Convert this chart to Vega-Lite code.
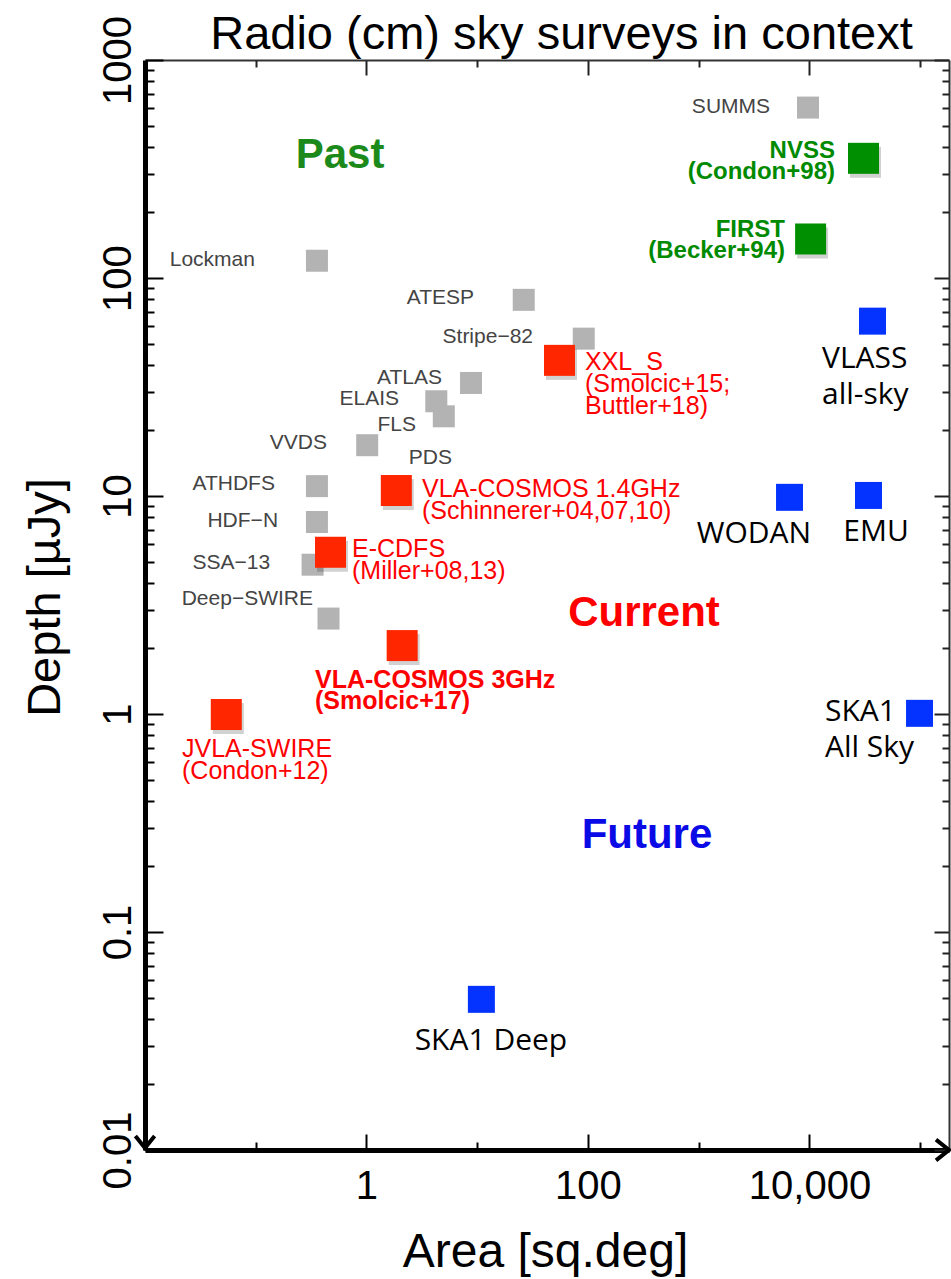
{
  "$schema": "https://vega.github.io/schema/vega-lite/v6.json",
  "width": 804,
  "height": 1090,
  "autosize": {"type": "none"},
  "padding": {"left": 145, "top": 60, "right": 2, "bottom": 129},
  "background": "white",
  "datasets": {
    "surveys": [
      {"name": "SUMMS", "group": "gray", "area": 9705, "depth": 605},
      {"name": "Lockman", "group": "gray", "area": 0.357, "depth": 120},
      {"name": "ATESP", "group": "gray", "area": 26.3, "depth": 79.4},
      {"name": "Stripe-82", "group": "gray", "area": 91.6, "depth": 52.7},
      {"name": "ATLAS", "group": "gray", "area": 8.79, "depth": 33.0},
      {"name": "ELAIS", "group": "gray", "area": 4.27, "depth": 27.2},
      {"name": "FLS", "group": "gray", "area": 4.99, "depth": 23.2},
      {"name": "VVDS", "group": "gray", "area": 1.015, "depth": 17.1},
      {"name": "PDS", "group": "gray", "area": 1.86, "depth": 10.6},
      {"name": "ATHDFS", "group": "gray", "area": 0.357, "depth": 11.1},
      {"name": "HDF-N", "group": "gray", "area": 0.357, "depth": 7.6},
      {"name": "SSA-13", "group": "gray", "area": 0.326, "depth": 4.84},
      {"name": "Deep-SWIRE", "group": "gray", "area": 0.454, "depth": 2.74},
      {"name": "NVSS", "group": "green", "area": 30760, "depth": 354},
      {"name": "FIRST", "group": "green", "area": 10240, "depth": 151},
      {"name": "XXL-S", "group": "red", "area": 55.3, "depth": 41.9},
      {"name": "VLA-COSMOS 1.4GHz", "group": "red", "area": 1.86, "depth": 10.6},
      {"name": "E-CDFS", "group": "red", "area": 0.473, "depth": 5.52},
      {"name": "VLA-COSMOS 3GHz", "group": "red", "area": 2.10, "depth": 2.06},
      {"name": "JVLA-SWIRE", "group": "red", "area": 0.0542, "depth": 0.995},
      {"name": "VLASS", "group": "blue", "area": 37070, "depth": 63.4},
      {"name": "WODAN", "group": "blue", "area": 6607, "depth": 9.86},
      {"name": "EMU", "group": "blue", "area": 34130, "depth": 10.06},
      {"name": "SKA1 All Sky", "group": "blue", "area": 98600, "depth": 1.007},
      {"name": "SKA1 Deep", "group": "blue", "area": 10.9, "depth": 0.0491}
    ],
    "labels": [
      {"text": "SUMMS", "style": "gray", "area": 4406, "depth": 608},
      {"text": "Lockman", "style": "gray", "area": 0.0984, "depth": 121},
      {"text": "ATESP", "style": "gray", "area": 9.35, "depth": 80.9},
      {"text": "Stripe−82", "style": "gray", "area": 31.9, "depth": 53.6},
      {"text": "ATLAS", "style": "gray", "area": 4.81, "depth": 34.8},
      {"text": "ELAIS", "style": "gray", "area": 1.97, "depth": 27.9},
      {"text": "FLS", "style": "gray", "area": 2.80, "depth": 21.2},
      {"text": "VVDS", "style": "gray", "area": 0.440, "depth": 17.5},
      {"text": "PDS", "style": "gray", "area": 5.92, "depth": 14.9},
      {"text": "ATHDFS", "style": "gray", "area": 0.149, "depth": 11.35},
      {"text": "HDF−N", "style": "gray", "area": 0.159, "depth": 7.67},
      {"text": "SSA−13", "style": "gray", "area": 0.135, "depth": 4.93},
      {"text": "Deep−SWIRE", "style": "gray", "area": 0.329, "depth": 3.37},
      {"text": ["XXL_S", "(Smolcic+15;", "Buttler+18)"], "style": "red", "area": 94.0, "depth": 37.8},
      {"text": ["VLA-COSMOS 1.4GHz", "(Schinnerer+04,07,10)"], "style": "red", "area": 3.17, "depth": 9.89},
      {"text": ["E-CDFS", "(Miller+08,13)"], "style": "red", "area": 0.740, "depth": 5.25},
      {"text": ["JVLA-SWIRE", "(Condon+12)"], "style": "red", "area": 0.0216, "depth": 0.635},
      {"text": ["VLA-COSMOS 3GHz", "(Smolcic+17)"], "style": "redbold", "area": 0.343, "depth": 1.315},
      {"text": ["NVSS", "(Condon+98)"], "style": "green", "area": 17000, "depth": 355},
      {"text": ["FIRST", "(Becker+94)"], "style": "green", "area": 6014, "depth": 154},
      {"text": ["VLASS", "all-sky"], "style": "blackleft", "area": 12980, "depth": 38.6},
      {"text": ["SKA1", "All Sky"], "style": "blackleft", "area": 13800, "depth": 0.929},
      {"text": "WODAN", "style": "blackcenter", "area": 3156, "depth": 6.08},
      {"text": "EMU", "style": "blackcenter", "area": 39900, "depth": 6.22},
      {"text": "SKA1 Deep", "style": "blackcenter", "area": 13.3, "depth": 0.0288},
      {"text": "Past", "style": "Past", "area": 0.577, "depth": 320},
      {"text": "Current", "style": "Current", "area": 320.6, "depth": 2.535},
      {"text": "Future", "style": "Future", "area": 341, "depth": 0.2427}
    ]
  },
  "resolve": {"axis": {"x": "independent", "y": "independent"}},
  "layer": [
    {
      "data": {"name": "surveys"},
      "transform": [{"filter": "datum.group === 'gray'"}],
      "mark": {"type": "point", "shape": "square", "filled": true, "size": 484, "color": "#b3b3b3", "opacity": 1},
      "encoding": {
        "x": {"field": "area", "type": "quantitative",
          "scale": {"type": "log", "domain": [0.01, 181970], "nice": false},
          "axis": {"orient": "bottom", "values": [1, 100, 10000], "format": ",~f", "ticks": false, "grid": false,
            "domainColor": "black", "domainWidth": 5, "labelFontSize": 40, "labelFont": "Liberation Sans", "labelColor": "black",
            "labelPadding": 16, "labelBaseline": "top", "labelFlush": false, "labelOverlap": false,
            "title": "Area [sq.deg]", "titleFontSize": 48, "titleFont": "Liberation Sans", "titleFontWeight": "normal", "titleColor": "black",
            "titleX": 400, "titleY": 116, "titleBaseline": "alphabetic", "titleAlign": "center"}},
        "y": {"field": "depth", "type": "quantitative",
          "scale": {"type": "log", "domain": [0.01, 1000], "nice": false},
          "axis": {"orient": "left", "values": [0.01, 0.1, 1, 10, 100, 1000], "format": "~f", "ticks": false, "grid": false,
            "domainColor": "black", "domainWidth": 5, "labelAngle": -90, "labelAlign": "center", "labelBaseline": "middle",
            "labelFontSize": 40, "labelFont": "Liberation Sans", "labelColor": "black", "labelPadding": 27, "labelFlush": false, "labelOverlap": false,
            "title": "Depth [µJy]", "titleFontSize": 47, "titleFont": "Liberation Sans", "titleFontWeight": "normal", "titleColor": "black",
            "titleAngle": -90, "titleX": -100, "titleY": 537, "titleAlign": "center", "titleBaseline": "middle"}}
      }
    },
    {
      "data": {"name": "surveys"},
      "transform": [{"filter": "datum.group === 'red' || datum.group === 'green'"}],
      "mark": {"type": "point", "shape": "square", "filled": true, "size": 961, "color": "#000000", "opacity": 0.18, "xOffset": 2, "yOffset": 4},
      "encoding": {
        "x": {"field": "area", "type": "quantitative",
          "scale": {"type": "log", "domain": [0.01, 181970], "nice": false},
          "axis": {"orient": "bottom", "values": [1, 100, 10000], "labels": false, "domain": false, "grid": false, "title": null,
            "ticks": true, "tickSize": -16, "tickWidth": 2, "tickColor": "black"}},
        "y": {"field": "depth", "type": "quantitative",
          "scale": {"type": "log", "domain": [0.01, 1000], "nice": false},
          "axis": {"orient": "left", "values": [0.01, 0.1, 1, 10, 100, 1000], "labels": false, "domain": false, "grid": false, "title": null,
            "ticks": true, "tickSize": -18, "tickWidth": 2, "tickColor": "black"}}
      }
    },
    {
      "data": {"name": "surveys"},
      "transform": [{"filter": "datum.group === 'red'"}],
      "mark": {"type": "point", "shape": "square", "filled": true, "size": 961, "color": "#ff2600", "opacity": 1},
      "encoding": {
        "x": {"field": "area", "type": "quantitative",
          "scale": {"type": "log", "domain": [0.01, 181970], "nice": false},
          "axis": {"orient": "bottom", "values": [0.1, 10, 1000, 100000], "labels": false, "domain": false, "grid": false, "title": null,
            "ticks": true, "tickSize": -8, "tickWidth": 2, "tickColor": "black"}},
        "y": {"field": "depth", "type": "quantitative",
          "scale": {"type": "log", "domain": [0.01, 1000], "nice": false},
          "axis": {"orient": "left", "values": [0.02, 0.03, 0.04, 0.05, 0.06, 0.07, 0.08, 0.09, 0.2, 0.3, 0.4, 0.5, 0.6, 0.7, 0.8, 0.9, 2, 3, 4, 5, 6, 7, 8, 9, 20, 30, 40, 50, 60, 70, 80, 90, 200, 300, 400, 500, 600, 700, 800, 900],
            "labels": false, "domain": false, "grid": false, "title": null,
            "ticks": true, "tickSize": -9, "tickWidth": 2, "tickColor": "black"}}
      }
    },
    {
      "data": {"name": "surveys"},
      "transform": [{"filter": "datum.group === 'green'"}],
      "mark": {"type": "point", "shape": "square", "filled": true, "size": 961, "color": "#008f00", "opacity": 1},
      "encoding": {
        "x": {"field": "area", "type": "quantitative",
          "scale": {"type": "log", "domain": [0.01, 181970], "nice": false},
          "axis": {"orient": "top", "values": [1, 100, 10000], "labels": false, "domain": true, "domainColor": "#333333", "domainWidth": 2, "grid": false,
            "ticks": true, "tickSize": -15, "tickWidth": 2, "tickColor": "#222222",
            "title": "Radio (cm) sky surveys in context", "titleFontSize": 47, "titleFont": "Liberation Sans", "titleFontWeight": "normal", "titleColor": "black",
            "titleX": 416, "titleY": -12, "titleAlign": "center", "titleBaseline": "alphabetic"}},
        "y": {"field": "depth", "type": "quantitative",
          "scale": {"type": "log", "domain": [0.01, 1000], "nice": false},
          "axis": {"orient": "right", "values": [0.01, 0.1, 1, 10, 100, 1000], "labels": false, "domain": true, "domainColor": "#333333", "domainWidth": 2, "grid": false, "title": null,
            "ticks": true, "tickSize": -15, "tickWidth": 2, "tickColor": "#222222"}}
      }
    },
    {
      "data": {"name": "surveys"},
      "transform": [{"filter": "datum.group === 'blue'"}],
      "mark": {"type": "point", "shape": "square", "filled": true, "size": 729, "color": "#0433ff", "opacity": 1},
      "encoding": {
        "x": {"field": "area", "type": "quantitative",
          "scale": {"type": "log", "domain": [0.01, 181970], "nice": false},
          "axis": {"orient": "top", "values": [0.1, 10, 1000, 100000], "labels": false, "domain": false, "grid": false, "title": null,
            "ticks": true, "tickSize": -7, "tickWidth": 2, "tickColor": "#222222"}},
        "y": {"field": "depth", "type": "quantitative",
          "scale": {"type": "log", "domain": [0.01, 1000], "nice": false},
          "axis": {"orient": "right", "values": [0.02, 0.03, 0.04, 0.05, 0.06, 0.07, 0.08, 0.09, 0.2, 0.3, 0.4, 0.5, 0.6, 0.7, 0.8, 0.9, 2, 3, 4, 5, 6, 7, 8, 9, 20, 30, 40, 50, 60, 70, 80, 90, 200, 300, 400, 500, 600, 700, 800, 900],
            "labels": false, "domain": false, "grid": false, "title": null,
            "ticks": true, "tickSize": -7, "tickWidth": 2, "tickColor": "#222222"}}
      }
    },
    {
      "data": {"name": "labels"},
      "transform": [{"filter": "datum.style === 'gray'"}],
      "mark": {"type": "text", "align": "right", "baseline": "middle", "fontSize": 21, "font": "Liberation Sans", "color": "#444444"},
      "encoding": {
        "x": {"field": "area", "type": "quantitative", "scale": {"type": "log", "domain": [0.01, 181970], "nice": false}, "axis": null},
        "y": {"field": "depth", "type": "quantitative", "scale": {"type": "log", "domain": [0.01, 1000], "nice": false}, "axis": null},
        "text": {"field": "text", "type": "nominal"}
      }
    },
    {
      "data": {"name": "labels"},
      "transform": [{"filter": "datum.style === 'red'"}],
      "mark": {"type": "text", "align": "left", "baseline": "alphabetic", "fontSize": 25, "lineHeight": 22, "font": "Liberation Sans", "color": "#ff0000"},
      "encoding": {
        "x": {"field": "area", "type": "quantitative", "scale": {"type": "log", "domain": [0.01, 181970], "nice": false}, "axis": null},
        "y": {"field": "depth", "type": "quantitative", "scale": {"type": "log", "domain": [0.01, 1000], "nice": false}, "axis": null},
        "text": {"field": "text", "type": "nominal"}
      }
    },
    {
      "data": {"name": "labels"},
      "transform": [{"filter": "datum.style === 'redbold'"}],
      "mark": {"type": "text", "align": "left", "baseline": "alphabetic", "fontSize": 25, "lineHeight": 21, "fontWeight": "bold", "font": "Liberation Sans", "color": "#ff0000"},
      "encoding": {
        "x": {"field": "area", "type": "quantitative", "scale": {"type": "log", "domain": [0.01, 181970], "nice": false}, "axis": null},
        "y": {"field": "depth", "type": "quantitative", "scale": {"type": "log", "domain": [0.01, 1000], "nice": false}, "axis": null},
        "text": {"field": "text", "type": "nominal"}
      }
    },
    {
      "data": {"name": "labels"},
      "transform": [{"filter": "datum.style === 'green'"}],
      "mark": {"type": "text", "align": "right", "baseline": "alphabetic", "fontSize": 24, "lineHeight": 21, "fontWeight": "bold", "font": "Liberation Sans", "color": "#008a00"},
      "encoding": {
        "x": {"field": "area", "type": "quantitative", "scale": {"type": "log", "domain": [0.01, 181970], "nice": false}, "axis": null},
        "y": {"field": "depth", "type": "quantitative", "scale": {"type": "log", "domain": [0.01, 1000], "nice": false}, "axis": null},
        "text": {"field": "text", "type": "nominal"}
      }
    },
    {
      "data": {"name": "labels"},
      "transform": [{"filter": "datum.style === 'blackleft'"}],
      "mark": {"type": "text", "align": "left", "baseline": "alphabetic", "fontSize": 30, "lineHeight": 36, "font": "Open Sans", "color": "#000000"},
      "encoding": {
        "x": {"field": "area", "type": "quantitative", "scale": {"type": "log", "domain": [0.01, 181970], "nice": false}, "axis": null},
        "y": {"field": "depth", "type": "quantitative", "scale": {"type": "log", "domain": [0.01, 1000], "nice": false}, "axis": null},
        "text": {"field": "text", "type": "nominal"}
      }
    },
    {
      "data": {"name": "labels"},
      "transform": [{"filter": "datum.style === 'blackcenter'"}],
      "mark": {"type": "text", "align": "center", "baseline": "alphabetic", "fontSize": 30, "font": "Open Sans", "color": "#000000"},
      "encoding": {
        "x": {"field": "area", "type": "quantitative", "scale": {"type": "log", "domain": [0.01, 181970], "nice": false}, "axis": null},
        "y": {"field": "depth", "type": "quantitative", "scale": {"type": "log", "domain": [0.01, 1000], "nice": false}, "axis": null},
        "text": {"field": "text", "type": "nominal"}
      }
    },
    {
      "data": {"name": "labels"},
      "transform": [{"filter": "datum.style === 'Past' || datum.style === 'Current' || datum.style === 'Future'"}],
      "mark": {"type": "text", "align": "center", "baseline": "alphabetic", "fontSize": 42, "fontWeight": "bold", "font": "Liberation Sans"},
      "encoding": {
        "x": {"field": "area", "type": "quantitative", "scale": {"type": "log", "domain": [0.01, 181970], "nice": false}, "axis": null},
        "y": {"field": "depth", "type": "quantitative", "scale": {"type": "log", "domain": [0.01, 1000], "nice": false}, "axis": null},
        "text": {"field": "text", "type": "nominal"},
        "color": {"field": "style", "type": "nominal", "scale": {"domain": ["Past", "Current", "Future"], "range": ["#1b8a1b", "#ff0000", "#0a0ae6"]}, "legend": null}
      }
    },
    {
      "data": {"values": [{}]},
      "mark": {"type": "point", "shape": "M-1,-0.8L0,0L-1,0.8", "filled": false, "size": 676, "stroke": "black", "strokeWidth": 4, "opacity": 1, "strokeJoin": "miter"},
      "encoding": {
        "x": {"datum": 181970, "type": "quantitative", "scale": {"type": "log", "domain": [0.01, 181970], "nice": false}, "axis": null},
        "y": {"datum": 0.01, "type": "quantitative", "scale": {"type": "log", "domain": [0.01, 1000], "nice": false}, "axis": null}
      }
    },
    {
      "data": {"values": [{}]},
      "mark": {"type": "point", "shape": "M-0.8,-1L0,0L0.8,-1", "filled": false, "size": 576, "stroke": "black", "strokeWidth": 4, "opacity": 1, "strokeJoin": "miter", "yOffset": -2},
      "encoding": {
        "x": {"datum": 0.01, "type": "quantitative", "scale": {"type": "log", "domain": [0.01, 181970], "nice": false}, "axis": null},
        "y": {"datum": 0.01, "type": "quantitative", "scale": {"type": "log", "domain": [0.01, 1000], "nice": false}, "axis": null}
      }
    }
  ],
  "config": {"view": {"stroke": null}, "axis": {"grid": false}, "font": "Liberation Sans"}
}
